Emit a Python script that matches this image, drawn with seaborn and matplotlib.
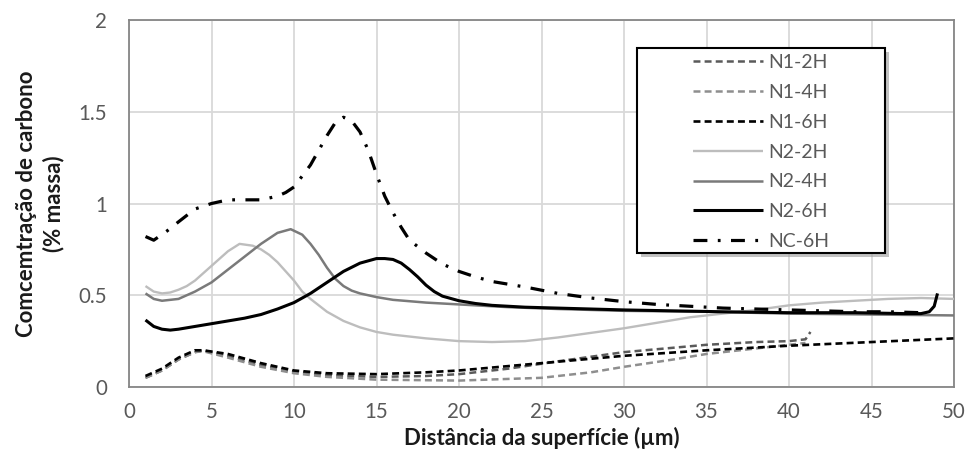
import matplotlib
matplotlib.use("Agg")
import matplotlib.pyplot as plt
import seaborn as sns
from matplotlib.patches import Rectangle
from matplotlib.ticker import FixedLocator, FixedFormatter

# ---------------- data ----------------
x_ticks = [0, 5, 10, 15, 20, 25, 30, 35, 40, 45, 50]
x_tick_labels = ["0", "5", "10", "15", "20", "25", "30", "35", "40", "45", "50"]
y_ticks = [0, 0.5, 1, 1.5, 2]
y_tick_labels = ["0", "0.5", "1", "1.5", "2"]

n1_2h_x = [1, 2, 3, 4, 4.5, 6, 8, 10, 12, 15, 18, 20, 23, 26, 30, 35, 38, 40, 41, 41.3]
n1_2h_y = [0.05, 0.09, 0.15, 0.19, 0.20, 0.17, 0.12, 0.085, 0.065, 0.055, 0.06, 0.07,
           0.10, 0.14, 0.19, 0.23, 0.245, 0.25, 0.26, 0.30]

n1_4h_x = [1, 2, 3, 4, 4.5, 6, 8, 10, 12, 15, 20, 25, 28, 30, 33, 35, 38, 40, 41]
n1_4h_y = [0.05, 0.09, 0.15, 0.19, 0.195, 0.16, 0.11, 0.075, 0.055, 0.04, 0.035, 0.05,
           0.08, 0.11, 0.15, 0.18, 0.21, 0.23, 0.24]

n1_6h_x = [1, 2, 3, 4, 4.5, 6, 8, 10, 12, 15, 18, 20, 25, 30, 35, 40, 45, 50]
n1_6h_y = [0.06, 0.10, 0.16, 0.20, 0.20, 0.18, 0.13, 0.09, 0.075, 0.07, 0.08, 0.09,
           0.13, 0.17, 0.20, 0.225, 0.245, 0.265]

n2_2h_x = [1, 1.5, 2, 2.5, 3, 3.5, 4, 5, 6, 6.7, 7.5, 8, 8.5, 9, 9.5, 10, 10.5, 11, 12,
           13, 14, 15, 16, 18, 20, 22, 24, 26, 28, 30, 32, 34, 36, 38, 40, 42, 44, 46,
           48, 50]
n2_2h_y = [0.55, 0.52, 0.51, 0.515, 0.53, 0.55, 0.58, 0.66, 0.74, 0.78, 0.77, 0.75, 0.72,
           0.68, 0.63, 0.58, 0.52, 0.48, 0.41, 0.36, 0.325, 0.30, 0.285, 0.265, 0.25,
           0.245, 0.25, 0.27, 0.295, 0.32, 0.35, 0.38, 0.40, 0.42, 0.445, 0.46, 0.47,
           0.48, 0.485, 0.48]

n2_4h_x = [1, 1.5, 2, 3, 4, 5, 6, 7, 8, 9, 9.8, 10.5, 11, 11.5, 12, 12.5, 13, 13.5, 14,
           15, 16, 18, 20, 23, 26, 30, 35, 40, 45, 50]
n2_4h_y = [0.51, 0.48, 0.47, 0.48, 0.52, 0.57, 0.64, 0.71, 0.78, 0.84, 0.86, 0.83, 0.78,
           0.72, 0.65, 0.59, 0.55, 0.525, 0.51, 0.49, 0.475, 0.46, 0.45, 0.435, 0.425,
           0.415, 0.41, 0.40, 0.395, 0.39]

n2_6h_x = [1, 1.5, 2, 2.5, 3, 4, 5, 6, 7, 8, 9, 10, 11, 12, 13, 14, 15, 15.5, 16, 16.5,
           17, 17.5, 18, 18.5, 19, 20, 21, 22, 24, 26, 28, 30, 33, 36, 40, 44, 47, 48,
           48.5, 48.8, 49]
n2_6h_y = [0.365, 0.33, 0.315, 0.31, 0.315, 0.33, 0.345, 0.36, 0.375, 0.395, 0.425, 0.46,
           0.51, 0.57, 0.63, 0.675, 0.70, 0.70, 0.695, 0.675, 0.64, 0.60, 0.555, 0.52,
           0.495, 0.47, 0.455, 0.445, 0.435, 0.43, 0.425, 0.42, 0.415, 0.41, 0.405,
           0.405, 0.40, 0.40, 0.41, 0.44, 0.51]

nc_6h_x = [1, 1.5, 2.3, 3, 4, 5, 6, 7, 8, 9, 9.5, 10, 10.5, 11, 11.5, 12, 12.5, 13, 13.5,
           14, 14.5, 15, 15.5, 16, 16.5, 17, 18, 19, 20, 21, 22, 23, 24, 26, 28, 30, 32,
           34, 36, 38, 40, 42, 44, 46, 48]
nc_6h_y = [0.82, 0.80, 0.85, 0.90, 0.97, 1.00, 1.02, 1.02, 1.02, 1.04, 1.06, 1.09, 1.15,
           1.21, 1.29, 1.37, 1.44, 1.47, 1.45, 1.39, 1.29, 1.16, 1.04, 0.95, 0.87, 0.80,
           0.73, 0.67, 0.63, 0.60, 0.575, 0.56, 0.545, 0.51, 0.485, 0.465, 0.45, 0.44,
           0.43, 0.425, 0.42, 0.415, 0.41, 0.41, 0.405]

series_names = ["N1-2H", "N1-4H", "N1-6H", "N2-2H", "N2-4H", "N2-6H", "NC-6H"]

# ---------------- style ----------------
sns.set_theme(style="white")
plt.rcParams["font.family"] = ["Lato", "DejaVu Sans"]
plt.rcParams["lines.scale_dashes"] = False

W, H = 973, 457
fig = plt.figure(figsize=(W / 100, H / 100), dpi=100)
ax = fig.add_axes([129 / W, 1 - 387 / H, (954 - 129) / W, (387 - 20) / H])

dash = (0, (5.0, 3.0))
dashdot = (0, (10, 7.5, 2, 7.5))
styles = {
    "N1-2H": dict(x=n1_2h_x, y=n1_2h_y, color="#5a5a5a", lw=1.8, ls=dash, z=3),
    "N1-4H": dict(x=n1_4h_x, y=n1_4h_y, color="#8e8e8e", lw=1.8, ls=dash, z=3),
    "N1-6H": dict(x=n1_6h_x, y=n1_6h_y, color="#000000", lw=1.9, ls=dash, z=4),
    "N2-2H": dict(x=n2_2h_x, y=n2_2h_y, color="#bdbdbd", lw=1.7, ls="-", z=3),
    "N2-4H": dict(x=n2_4h_x, y=n2_4h_y, color="#7a7a7a", lw=1.8, ls="-", z=4),
    "N2-6H": dict(x=n2_6h_x, y=n2_6h_y, color="#000000", lw=2.2, ls="-", z=5),
    "NC-6H": dict(x=nc_6h_x, y=nc_6h_y, color="#000000", lw=2.3, ls=dashdot, z=5),
}

handles = []
for name in series_names:
    s = styles[name]
    before = len(ax.lines)
    sns.lineplot(x=s["x"], y=s["y"], ax=ax, color=s["color"], linewidth=s["lw"],
                 sort=False, estimator=None, label=name, legend=False)
    line = ax.lines[before]
    line.set_linestyle(s["ls"])
    line.set_zorder(s["z"])
    line.set_solid_capstyle("butt")
    line.set_dash_capstyle("butt")
    handles.append(line)

ax.set_xlim(0, 50)
ax.set_ylim(0, 2)
ax.xaxis.set_major_locator(FixedLocator(x_ticks))
ax.xaxis.set_major_formatter(FixedFormatter(x_tick_labels))
ax.yaxis.set_major_locator(FixedLocator(y_ticks))
ax.yaxis.set_major_formatter(FixedFormatter(y_tick_labels))
ax.grid(True, color="#d9d9d9", linewidth=1.3, zorder=0)
ax.set_axisbelow(True)
ax.tick_params(axis="both", length=0, labelsize=14.8, labelcolor="#595959")
ax.tick_params(axis="x", pad=11)
ax.tick_params(axis="y", pad=16)
for sp in ax.spines.values():
    sp.set_visible(True)
    sp.set_color("#868686")
    sp.set_linewidth(1.3)

ax.set_xlabel("Distância da superfície (µm)", fontsize=16, fontweight="bold",
              color="#1a1a1a", labelpad=3)
ax.set_ylabel("Comcemtração de carbono\n(% massa)", fontsize=16, fontweight="bold",
              color="#1a1a1a", labelpad=10, linespacing=1.3)

# legend box with shadow (drawn separately to match the wide frame)
lx0, ly0, lx1, ly1 = 637, 48, 885, 253
shadow = Rectangle(((lx0 + 4) / W, 1 - (ly1 + 4) / H), (lx1 - lx0) / W, (ly1 - ly0) / H,
                   transform=fig.transFigure, facecolor="#9a9a9a", edgecolor="none",
                   alpha=0.6, zorder=8)
frame = Rectangle((lx0 / W, 1 - ly1 / H), (lx1 - lx0) / W, (ly1 - ly0) / H,
                  transform=fig.transFigure, facecolor="white", edgecolor="black",
                  linewidth=1.5, zorder=9)
fig.patches.extend([shadow, frame])

leg = fig.legend(handles, series_names, loc="upper left",
                 bbox_to_anchor=(693 / W, 1 - 54 / H), bbox_transform=fig.transFigure,
                 frameon=False, fontsize=14, handlelength=3.6, handletextpad=0.25,
                 labelspacing=0.66, borderpad=0, borderaxespad=0)
leg.set_zorder(10)
for t in leg.get_texts():
    t.set_color("#595959")

fig.savefig("out.png", dpi=100)
